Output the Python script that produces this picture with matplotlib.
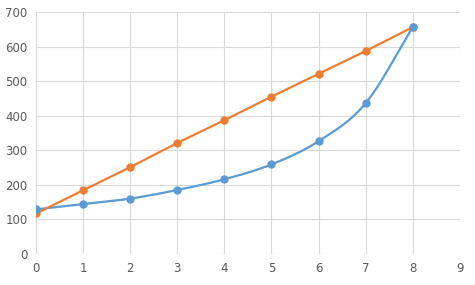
import numpy as np
import matplotlib.pyplot as plt

x = [0, 1, 2, 3, 4, 5, 6, 7, 8]
blue = [129, 144, 160, 185, 216, 259, 326, 436, 656]
orange = [117, 184, 251, 321, 387, 455, 521, 587, 656]


def smooth(xs, ys, n=30):
    # Catmull-Rom style smoothing, similar to Excel's smoothed scatter line
    xs = np.asarray(xs, float)
    ys = np.asarray(ys, float)
    px = np.concatenate([[2 * xs[0] - xs[1]], xs, [2 * xs[-1] - xs[-2]]])
    py = np.concatenate([[2 * ys[0] - ys[1]], ys, [2 * ys[-1] - ys[-2]]])
    ox, oy = [], []
    t = np.linspace(0, 1, n)
    for i in range(1, len(px) - 2):
        for arr, out in ((px, ox), (py, oy)):
            p0, p1, p2, p3 = arr[i - 1], arr[i], arr[i + 1], arr[i + 2]
            out.extend(0.5 * ((2 * p1) + (-p0 + p2) * t
                              + (2 * p0 - 5 * p1 + 4 * p2 - p3) * t ** 2
                              + (-p0 + 3 * p1 - 3 * p2 + p3) * t ** 3))
    return ox, oy


fig = plt.figure(figsize=(4.75, 2.85), dpi=100)
ax = fig.add_axes([0.0758, 0.109, 0.8922, 0.849])

sx, sy = smooth(x, blue)
ax.plot(sx, sy, color='#5B9BD5', linewidth=1.6, zorder=3)
ax.plot(x, blue, 'o', color='#5B9BD5', markersize=5, zorder=4)
ax.plot(x, orange, '-o', color='#ED7D31', linewidth=1.6, markersize=5, zorder=3)

ax.set_xlim(0, 9)
ax.set_ylim(0, 700)
ax.set_xticks(range(0, 10))
ax.set_yticks(range(0, 701, 100))
ax.grid(True, color='#D9D9D9', linewidth=0.8)
ax.set_axisbelow(True)
for s in ax.spines.values():
    s.set_visible(False)
ax.tick_params(length=0, colors='#595959', labelsize=8.5, pad=6)

fig.savefig('out.png', dpi=100)
